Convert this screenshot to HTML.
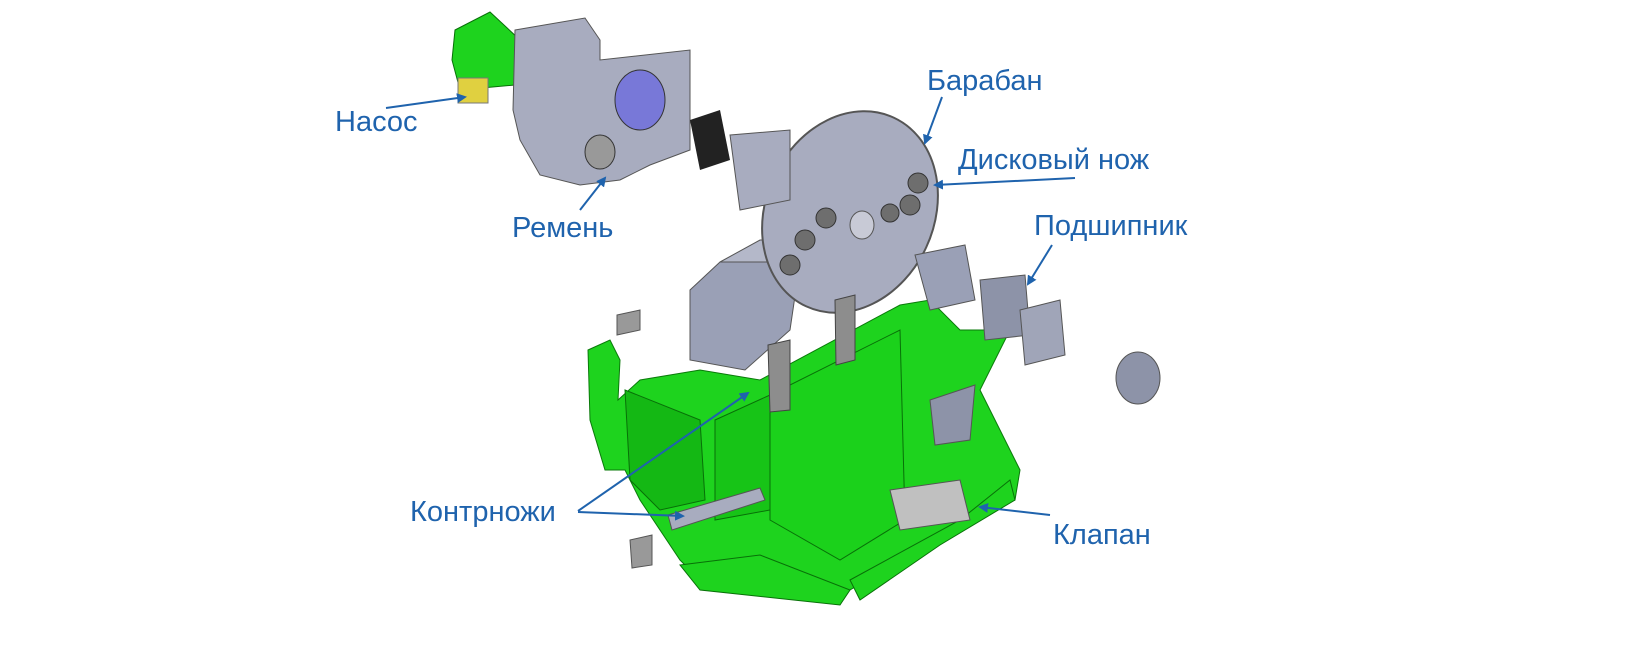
<!DOCTYPE html>
<html><head><meta charset="utf-8"><style>
html,body{margin:0;padding:0;background:#fff;width:1652px;height:648px;overflow:hidden}
svg{display:block}
text{font-family:"Liberation Sans","DejaVu Sans",sans-serif;font-size:29px;fill:#1f63ad}
</style></head><body>
<svg width="1652" height="648" viewBox="0 0 1652 648">
<defs><marker id="a" markerWidth="10" markerHeight="10" refX="8" refY="5" orient="auto" markerUnits="userSpaceOnUse"><path d="M0,0 L10,5 L0,10 z" fill="#1f63ad"/></marker></defs>
<!-- chassis green -->
<polygon points="618,400 640,380 700,370 760,380 900,305 930,300 960,330 1010,330 980,390 1000,430 1020,470 1015,500 960,520 940,540 900,560 850,590 840,600 760,580 700,580 680,560 640,500 625,470 605,470 590,420 588,350 610,340 620,360" fill="#1ed31e" stroke="#0a7a0a" stroke-width="1"/>
<polygon points="625,390 700,420 705,500 660,510 630,480" fill="#14b814" stroke="#087008"/>
<polygon points="715,420 770,395 770,510 715,520" fill="#17c417" stroke="#087008"/>
<polygon points="770,395 900,330 905,520 840,560 770,520" fill="#1bd11b" stroke="#087008"/>
<polygon points="680,565 760,555 850,590 840,605 700,590" fill="#1ed31e" stroke="#087008"/>
<polygon points="850,580 960,520 1010,480 1015,500 940,545 860,600" fill="#1ed31e" stroke="#087008"/>
<!-- gray housing box -->
<polygon points="690,290 720,262 800,262 790,330 745,370 690,360" fill="#9aa0b6" stroke="#555"/>
<polygon points="720,262 800,262 830,240 760,240" fill="#b4b8c9" stroke="#555"/>
<!-- disk -->
<ellipse cx="850" cy="212" rx="84" ry="104" transform="rotate(25 850 212)" fill="#a8acbf" stroke="#555" stroke-width="2"/>
<ellipse cx="862" cy="225" rx="12" ry="14" fill="#c8cad6" stroke="#555"/>
<g fill="#6e6e6e" stroke="#333">
<circle cx="918" cy="183" r="10"/><circle cx="910" cy="205" r="10"/><circle cx="890" cy="213" r="9"/><circle cx="826" cy="218" r="10"/><circle cx="805" cy="240" r="10"/><circle cx="790" cy="265" r="10"/></g>
<!-- right parts -->
<polygon points="915,255 965,245 975,300 930,310" fill="#9aa0b6" stroke="#555"/>
<polygon points="980,280 1025,275 1030,335 985,340" fill="#8d93a8" stroke="#555"/>
<polygon points="1020,310 1060,300 1065,355 1025,365" fill="#a0a5b8" stroke="#555"/>
<ellipse cx="1138" cy="378" rx="22" ry="26" fill="#8d93a8" stroke="#555"/>
<polygon points="930,400 975,385 970,440 935,445" fill="#8d93a8" stroke="#555"/>
<!-- valve -->
<polygon points="890,490 960,480 970,520 900,530" fill="#c0c0c0" stroke="#555"/>
<!-- knife strip -->
<polygon points="668,515 760,488 765,500 672,530" fill="#a8acbf" stroke="#555"/>
<polygon points="768,345 790,340 790,410 770,412" fill="#8d8d8d" stroke="#444"/>
<polygon points="835,300 855,295 855,360 836,365" fill="#8d8d8d" stroke="#444"/>
<!-- top-left assembly -->
<polygon points="455,30 490,12 520,40 515,85 460,90 452,60" fill="#1ed31e" stroke="#087008"/>
<rect x="458" y="78" width="30" height="25" fill="#e0d040" stroke="#777"/>
<polygon points="515,30 585,18 600,40 600,60 690,50 690,150 650,165 620,180 580,185 540,175 520,140 513,110" fill="#a8acbf" stroke="#555"/>
<ellipse cx="640" cy="100" rx="25" ry="30" fill="#7878d8" stroke="#333"/>
<ellipse cx="600" cy="152" rx="15" ry="17" fill="#999" stroke="#333"/>
<polygon points="690,120 720,110 730,160 700,170" fill="#222"/>
<polygon points="730,135 790,130 790,200 740,210" fill="#a8acbf" stroke="#555"/>
<!-- small parts -->
<polygon points="617,315 640,310 640,330 617,335" fill="#999" stroke="#555"/>
<polygon points="630,540 652,535 652,565 632,568" fill="#999" stroke="#555"/>
<!-- arrows -->
<g stroke="#1f63ad" stroke-width="2" fill="none" marker-end="url(#a)">
<line x1="386" y1="108" x2="465" y2="97"/>
<line x1="580" y1="210" x2="605" y2="178"/>
<line x1="942" y1="97" x2="925" y2="143"/>
<line x1="1075" y1="178" x2="935" y2="185"/>
<line x1="1052" y1="245" x2="1028" y2="284"/>
<line x1="578" y1="511" x2="748" y2="393"/>
<line x1="578" y1="512" x2="683" y2="516"/>
<line x1="1050" y1="515" x2="980" y2="507"/>
</g>
<text x="335" y="131">Насос</text>
<text x="512" y="237">Ремень</text>
<text x="927" y="90">Барабан</text>
<text x="958" y="169">Дисковый нож</text>
<text x="1034" y="235">Подшипник</text>
<text x="410" y="521">Контрножи</text>
<text x="1053" y="544">Клапан</text>
</svg>
</body></html>
